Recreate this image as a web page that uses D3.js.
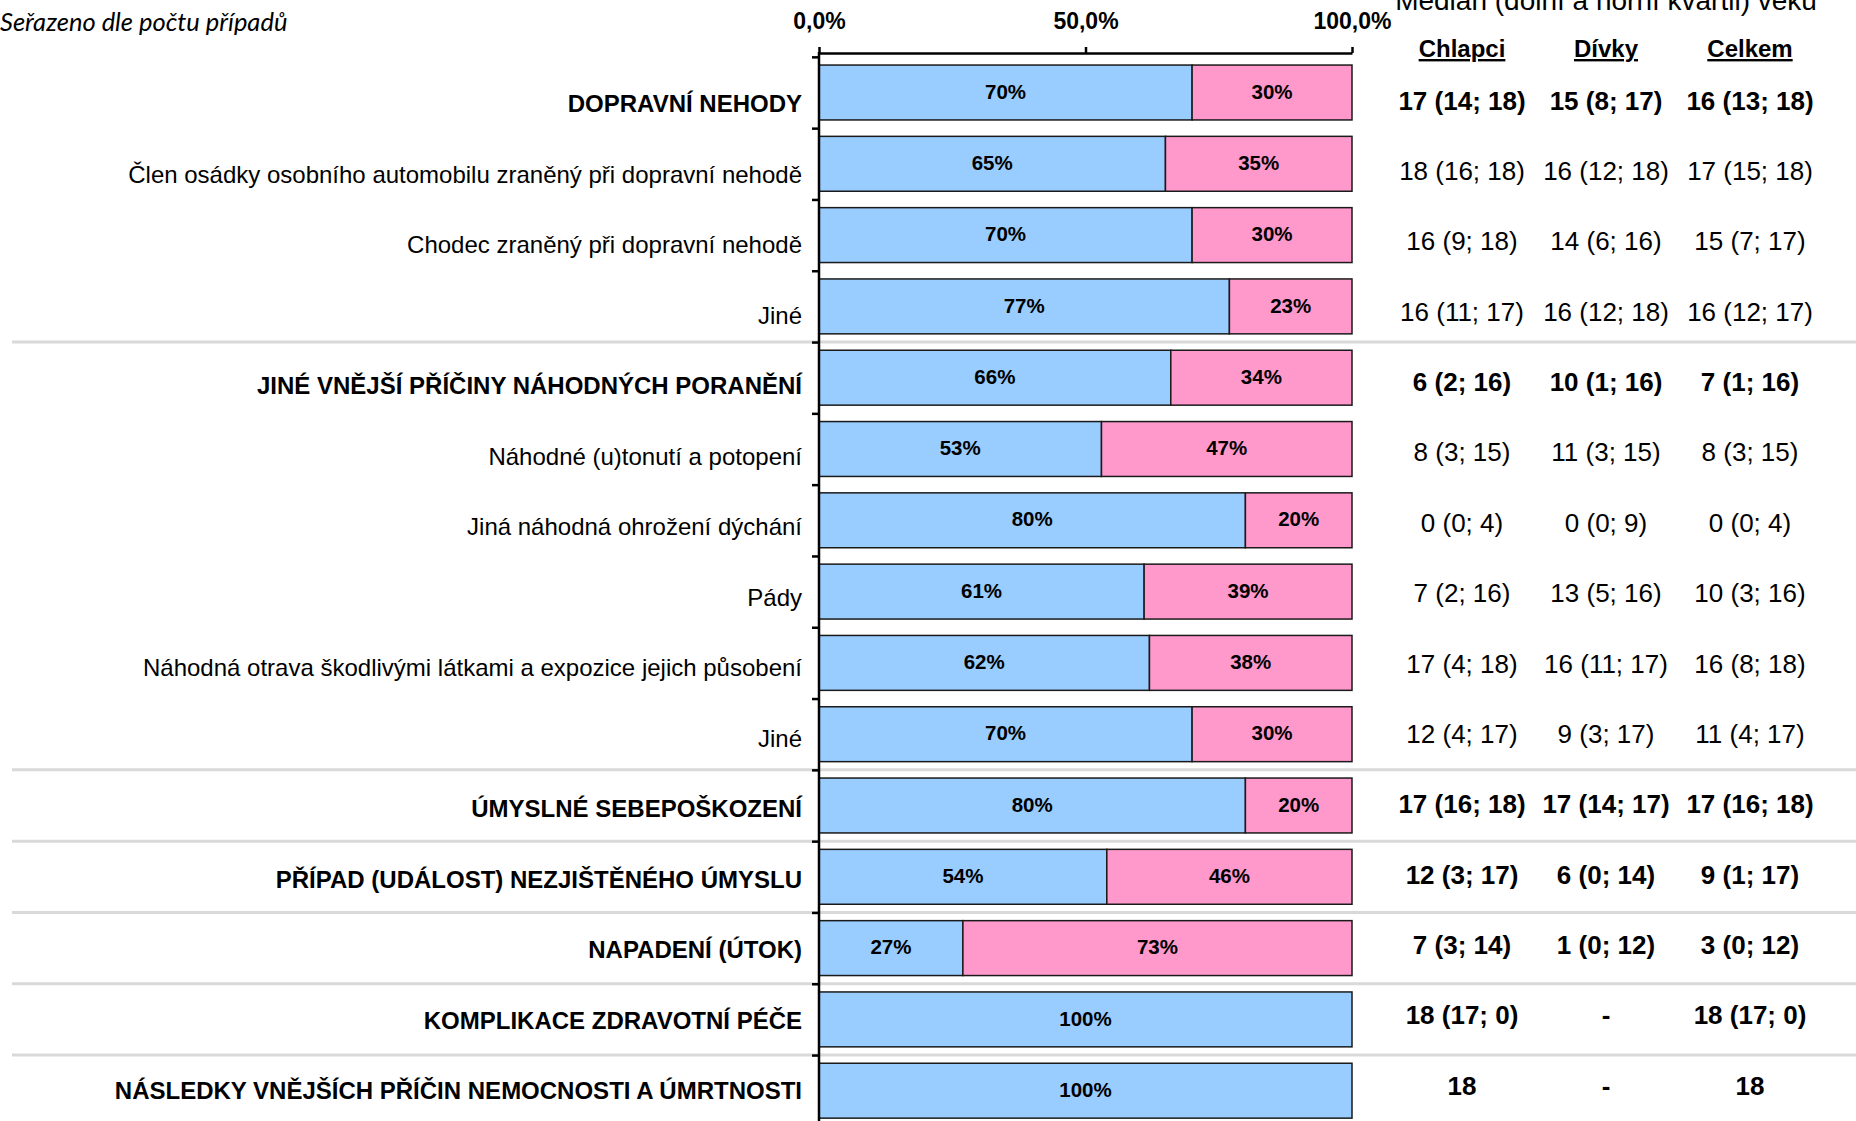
<!DOCTYPE html>
<html><head><meta charset="utf-8">
<script src="https://cdn.jsdelivr.net/npm/d3@7"></script>
<style>
html,body{margin:0;padding:0;background:#fff;}
svg{display:block;}
text{font-family:"Liberation Sans",Arial,sans-serif;fill:#000;}
</style></head>
<body>
<svg id="chart" width="1856" height="1121"></svg>
<script>
const categories = [
  "DOPRAVNÍ NEHODY",
  "Člen osádky osobního automobilu zraněný při dopravní nehodě",
  "Chodec zraněný při dopravní nehodě",
  "Jiné",
  "JINÉ VNĚJŠÍ PŘÍČINY NÁHODNÝCH PORANĚNÍ",
  "Náhodné (u)tonutí a potopení",
  "Jiná náhodná ohrožení dýchání",
  "Pády",
  "Náhodná otrava škodlivými látkami a expozice jejich působení",
  "Jiné",
  "ÚMYSLNÉ SEBEPOŠKOZENÍ",
  "PŘÍPAD (UDÁLOST) NEZJIŠTĚNÉHO ÚMYSLU",
  "NAPADENÍ (ÚTOK)",
  "KOMPLIKACE ZDRAVOTNÍ PÉČE",
  "NÁSLEDKY VNĚJŠÍCH PŘÍČIN NEMOCNOSTI A ÚMRTNOSTI"
];
const isGroup = [true,false,false,false,true,false,false,false,false,false,true,true,true,true,true];
const boysPct  = [70,65,70,77,66,53,80,61,62,70,80,54,27,100,100];
const girlsPct = [30,35,30,23,34,47,20,39,38,30,20,46,73,0,0];
const boysAge  = ["17 (14; 18)","18 (16; 18)","16 (9; 18)","16 (11; 17)","6 (2; 16)","8 (3; 15)","0 (0; 4)","7 (2; 16)","17 (4; 18)","12 (4; 17)","17 (16; 18)","12 (3; 17)","7 (3; 14)","18 (17; 0)","18"];
const girlsAge = ["15 (8; 17)","16 (12; 18)","14 (6; 16)","16 (12; 18)","10 (1; 16)","11 (3; 15)","0 (0; 9)","13 (5; 16)","16 (11; 17)","9 (3; 17)","17 (14; 17)","6 (0; 14)","1 (0; 12)","-","-"];
const totalAge = ["16 (13; 18)","17 (15; 18)","15 (7; 17)","16 (12; 17)","7 (1; 16)","8 (3; 15)","0 (0; 4)","10 (3; 16)","16 (8; 18)","11 (4; 17)","17 (16; 18)","9 (1; 17)","3 (0; 12)","18 (17; 0)","18"];
const columnHeaders = ["Chlapci","Dívky","Celkem"];
const xTicks = [0, 0.5, 1];
const separatorsAfter = [3, 9, 10, 11, 12, 13];
const sortNote = "Seřazeno dle počtu případů";
const tableTitle = "Medián (dolní a horní kvartil) věku";

const svg = d3.select("#chart");
const n = categories.length;
const idx = d3.range(n);

const x = d3.scaleLinear().domain([0, 1]).range([819, 1352]);
const y = d3.scaleBand().domain(idx).range([56.85, 56.85 + 15 * 71.3]).paddingInner(0.23).paddingOuter(0.115);
const yBound = d3.scaleLinear().domain([0, n]).range([56.85, 56.85 + 15 * 71.3]);
const yLabel = d3.scalePoint().domain(idx).range([104, 1091]);
const yTable = d3.scalePoint().domain(idx).range([100.6, 1085.5]);
const xCol = d3.scalePoint().domain(columnHeaders).range([1462, 1750]);

// separators
svg.append("g").selectAll("line").data(separatorsAfter).join("line")
  .attr("x1", 12).attr("x2", 1856)
  .attr("y1", d => yBound(d + 1)).attr("y2", d => yBound(d + 1))
  .attr("stroke", "#d9d9d9").attr("stroke-width", 3);

// bars
const rows = idx.map(i => ({i, b: boysPct[i] / 100, g: girlsPct[i] / 100}));
const bars = svg.append("g");
bars.selectAll("rect.b").data(rows).join("rect").attr("class", "b")
  .attr("x", x(0)).attr("y", d => y(d.i))
  .attr("width", d => x(d.b) - x(0)).attr("height", y.bandwidth())
  .attr("fill", "#99ccff").attr("stroke", "#1a1a1a").attr("stroke-width", 1.5);
bars.selectAll("rect.g").data(rows.filter(d => d.g > 0)).join("rect").attr("class", "g")
  .attr("x", d => x(d.b)).attr("y", d => y(d.i))
  .attr("width", d => x(d.b + d.g) - x(d.b)).attr("height", y.bandwidth())
  .attr("fill", "#ff99cc").attr("stroke", "#1a1a1a").attr("stroke-width", 1.5);

// percent labels
const pl = svg.append("g").attr("font-weight", "bold").attr("font-size", 20.5).attr("text-anchor", "middle");
pl.selectAll("text.b").data(rows).join("text")
  .attr("x", d => (x(0) + x(d.b)) / 2).attr("y", d => y(d.i) + y.bandwidth() / 2 - 1)
  .attr("dy", "0.35em").text(d => Math.round(d.b * 100) + "%");
pl.selectAll("text.g").data(rows.filter(d => d.g > 0)).join("text")
  .attr("x", d => (x(d.b) + x(d.b + d.g)) / 2).attr("y", d => y(d.i) + y.bandwidth() / 2 - 1)
  .attr("dy", "0.35em").text(d => Math.round(d.g * 100) + "%");

// top axis
const cz = d3.formatLocale({decimal: ",", thousands: " ", grouping: [3], currency: ["", " Kč"]});
const gx = svg.append("g").attr("transform", "translate(0,53)")
  .call(d3.axisTop(x).tickValues(xTicks).tickFormat(cz.format(".1%")).tickSize(6).tickSizeOuter(0).tickPadding(18));
gx.select(".domain").attr("stroke", "#000").attr("stroke-width", 2.5);
gx.selectAll(".tick line").attr("stroke", "#000").attr("stroke-width", 2.5);
gx.selectAll(".tick text").attr("font-family", "Liberation Sans, Arial, sans-serif").attr("font-size", 23).attr("font-weight", "bold").attr("fill", "#000");

// left axis
const gy = svg.append("g").attr("transform", "translate(819,0)")
  .call(d3.axisLeft(yBound).tickValues(d3.range(0, n + 1)).tickFormat("").tickSize(7).tickSizeOuter(0));
gy.select(".domain").remove();
gy.selectAll(".tick line").attr("stroke", "#000").attr("stroke-width", 2.5);
gy.append("line").attr("x1", 0).attr("x2", 0).attr("y1", 52).attr("y2", 1121).attr("stroke", "#000").attr("stroke-width", 2.5);

// category labels
svg.append("g").attr("text-anchor", "end").attr("font-size", 24)
  .selectAll("text").data(idx).join("text")
  .attr("x", 802).attr("y", i => yLabel(i)).attr("dy", "0.35em")
  .attr("font-weight", i => isGroup[i] ? "bold" : "normal")
  .text(i => categories[i]);

// table
const cols = [boysAge, girlsAge, totalAge];
const tg = svg.append("g").attr("text-anchor", "middle").attr("font-size", 26);
columnHeaders.forEach((h, c) => {
  tg.selectAll("text.c" + c).data(idx).join("text").attr("class", "c" + c)
    .attr("x", xCol(h)).attr("y", i => yTable(i)).attr("dy", "0.35em")
    .attr("font-weight", i => isGroup[i] ? "bold" : "normal")
    .text(i => cols[c][i]);
});
svg.append("g").attr("text-anchor", "middle").attr("font-size", 24).attr("font-weight", "bold")
  .selectAll("text").data(columnHeaders).join("text")
  .attr("x", d => xCol(d)).attr("y", 57)
  .style("text-decoration", "underline")
  .text(d => d);
svg.append("text").attr("x", 1606).attr("y", 9.5).attr("text-anchor", "middle").attr("font-size", 28).text(tableTitle);

// note
svg.append("text").attr("x", 0).attr("y", 31).attr("font-size", 25.5)
  .style("font-family", "Lato, 'Open Sans', sans-serif").style("font-style", "italic").text(sortNote);
</script>
</body></html>
